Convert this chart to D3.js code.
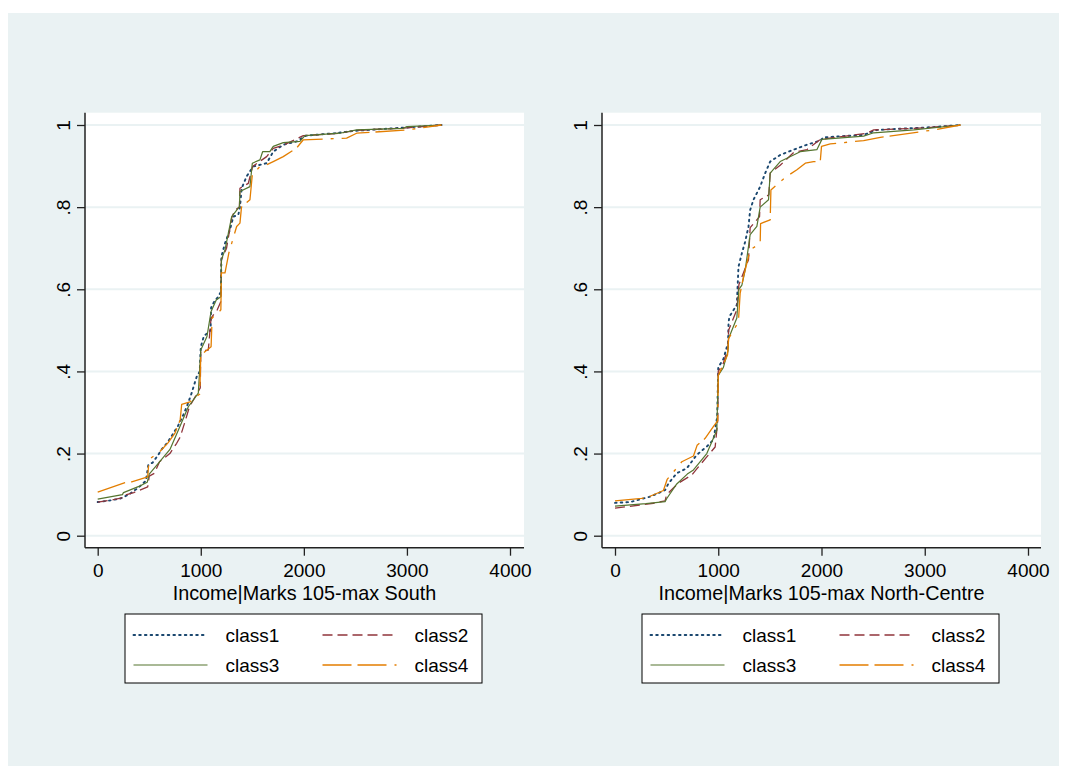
<!DOCTYPE html>
<html>
<head>
<meta charset="utf-8">
<script src="https://cdn.jsdelivr.net/npm/d3@7"></script>
<style>
  html, body { margin: 0; padding: 0; background: #ffffff; }
  svg { display: block; font-family: "Liberation Sans", Arial, sans-serif; }
</style>
</head>
<body>
<svg id="chart" width="1067" height="779"></svg>
<script>
// ---------------- data ----------------
const xTicks = [0, 1000, 2000, 3000, 4000];
const yTicks = [0, 0.2, 0.4, 0.6, 0.8, 1];
const yTickLabels = ["0", ".2", ".4", ".6", ".8", "1"];
const seriesNames = ["class1", "class2", "class3", "class4"];
const panelTitles = ["Income|Marks 105-max South", "Income|Marks 105-max North-Centre"];

// South panel: [income, cumulative share]
const southClass1 = [[0,0.082],[100,0.085],[216,0.090],[300,0.100],[400,0.118],[468,0.134],[491,0.172],[533,0.178],[588,0.197],[620,0.210],[680,0.228],[733,0.249],[780,0.268],[830,0.294],[870,0.318],[911,0.347],[960,0.387],[990,0.40],[1000,0.46],[1030,0.486],[1095,0.50],[1100,0.555],[1130,0.57],[1170,0.582],[1195,0.594],[1200,0.68],[1235,0.712],[1283,0.745],[1316,0.777],[1364,0.781],[1380,0.80],[1397,0.846],[1445,0.875],[1477,0.887],[1510,0.899],[1639,0.907],[1703,0.935],[1800,0.952],[1930,0.960],[2020,0.974],[2300,0.98],[2500,0.986],[3000,0.994],[3336,1]];
const southClass2 = [[0,0.082],[120,0.086],[233,0.092],[240,0.097],[350,0.105],[485,0.119],[500,0.145],[550,0.152],[600,0.18],[700,0.2],[766,0.225],[800,0.24],[850,0.28],[890,0.314],[950,0.34],[995,0.36],[1000,0.45],[1073,0.452],[1100,0.53],[1160,0.55],[1195,0.57],[1200,0.672],[1250,0.70],[1300,0.774],[1332,0.793],[1375,0.80],[1380,0.846],[1461,0.858],[1503,0.899],[1639,0.923],[1703,0.943],[1800,0.951],[1995,0.974],[2350,0.98],[2500,0.987],[3000,0.993],[3336,1]];
const southClass3 = [[0,0.089],[240,0.10],[250,0.105],[400,0.12],[480,0.13],[500,0.15],[600,0.18],[701,0.21],[782,0.257],[879,0.314],[976,0.347],[1000,0.452],[1060,0.485],[1100,0.546],[1150,0.574],[1195,0.582],[1200,0.672],[1235,0.696],[1300,0.777],[1375,0.801],[1380,0.838],[1477,0.85],[1500,0.907],[1574,0.915],[1600,0.935],[1670,0.935],[1703,0.948],[1800,0.957],[1962,0.96],[2011,0.974],[2350,0.98],[2512,0.988],[2964,0.992],[3000,0.996],[3336,1]];
const southClass4 = [[0,0.106],[265,0.129],[330,0.131],[485,0.143],[495,0.176],[507,0.187],[604,0.205],[682,0.226],[750,0.25],[800,0.282],[815,0.32],[895,0.326],[990,0.345],[1000,0.44],[1100,0.46],[1110,0.53],[1180,0.546],[1195,0.55],[1200,0.64],[1235,0.64],[1273,0.689],[1348,0.753],[1380,0.761],[1395,0.80],[1477,0.818],[1500,0.879],[1574,0.899],[1639,0.903],[1703,0.911],[1800,0.923],[1930,0.944],[1995,0.964],[2415,0.968],[2512,0.98],[3000,0.988],[3336,1]];

// North-Centre panel
const northClass1 = [[0,0.080],[150,0.082],[340,0.095],[485,0.111],[517,0.127],[598,0.152],[695,0.164],[792,0.197],[889,0.217],[954,0.234],[990,0.29],[1000,0.41],[1050,0.43],[1095,0.47],[1100,0.52],[1109,0.534],[1180,0.562],[1196,0.655],[1229,0.688],[1261,0.716],[1293,0.753],[1309,0.793],[1341,0.818],[1406,0.85],[1455,0.883],[1503,0.911],[1600,0.927],[1730,0.94],[1859,0.952],[1988,0.962],[2020,0.97],[2408,0.976],[2538,0.988],[3088,0.995],[3346,1]];
const northClass2 = [[0,0.067],[372,0.079],[485,0.085],[500,0.10],[614,0.128],[744,0.148],[800,0.165],[889,0.192],[970,0.216],[995,0.28],[1000,0.40],[1050,0.42],[1095,0.46],[1100,0.50],[1180,0.55],[1200,0.611],[1293,0.672],[1309,0.75],[1400,0.777],[1406,0.818],[1490,0.83],[1503,0.883],[1600,0.902],[1730,0.933],[1859,0.94],[1988,0.965],[2441,0.98],[2506,0.988],[3000,0.993],[3346,1]];
const northClass3 = [[0,0.072],[300,0.078],[485,0.083],[500,0.09],[598,0.126],[700,0.15],[760,0.16],[889,0.2],[986,0.257],[1000,0.39],[1050,0.41],[1095,0.45],[1100,0.48],[1180,0.53],[1200,0.60],[1229,0.61],[1261,0.647],[1309,0.733],[1374,0.753],[1406,0.80],[1487,0.818],[1503,0.883],[1600,0.911],[1794,0.935],[1955,0.94],[2004,0.965],[2408,0.973],[2506,0.981],[2894,0.988],[3346,1]];
const northClass4 = [[0,0.085],[259,0.091],[340,0.096],[469,0.11],[505,0.137],[582,0.16],[647,0.18],[760,0.194],[795,0.22],[873,0.237],[954,0.266],[995,0.28],[1000,0.39],[1090,0.44],[1100,0.48],[1195,0.52],[1212,0.59],[1245,0.631],[1309,0.696],[1406,0.712],[1410,0.76],[1503,0.769],[1510,0.842],[1600,0.862],[1665,0.875],[1762,0.891],[1843,0.907],[1923,0.911],[1988,0.911],[2000,0.948],[2085,0.954],[2408,0.962],[2570,0.97],[3088,0.988],[3346,1]];

// ---------------- styles ----------------
const colors = ["#1a476f", "#90353b", "#55752f", "#e37e00"];
const dashes = ["1.6,4.1", "10,5", null, "29,6,29,8,3,8"];
const caps = ["round", "butt", "butt", "butt"];
const widths = [1.9, 1.3, 1.2, 1.3];

const svg = d3.select("#chart");
svg.append("rect").attr("x", 8).attr("y", 13).attr("width", 1051).attr("height", 753).attr("fill", "#eaf2f3");

const panels = [
  { left: 85, right: 524, x0: 97.7, x4000: 510, series: [southClass1, southClass2, southClass3, southClass4], title: panelTitles[0] },
  { left: 602, right: 1041, x0: 615, x4000: 1028, series: [northClass1, northClass2, northClass3, northClass4], title: panelTitles[1] }
];
const plotTop = 112.7, plotBottom = 547.7;
const FONT = 19;
const TITLE_FONT = 19.8;

panels.forEach(p => {
  const x = d3.scaleLinear().domain([0, 4000]).range([p.x0, p.x4000]);
  const y = d3.scaleLinear().domain([0, 1]).range([535.7, 125]);
  const g = svg.append("g");

  g.append("rect").attr("x", p.left).attr("y", plotTop).attr("width", p.right - p.left).attr("height", plotBottom - plotTop).attr("fill", "#ffffff");

  // gridlines
  g.append("g").selectAll("line").data(yTicks).join("line")
    .attr("x1", p.left).attr("x2", p.right)
    .attr("y1", d => y(d)).attr("y2", d => y(d))
    .attr("stroke", "#eaf2f3").attr("stroke-width", 2);

  // lines
  const lineGen = d3.line().x(d => x(d[0])).y(d => y(d[1]));
  p.series.forEach((s, i) => {
    g.append("path").datum(s).attr("d", lineGen)
      .attr("fill", "none").attr("stroke", colors[i]).attr("stroke-width", widths[i])
      .attr("stroke-dasharray", dashes[i]).attr("stroke-linecap", caps[i])
      .attr("stroke-linejoin", "round");
  });

  // y axis
  const yAxis = d3.axisLeft(y).tickValues(yTicks).tickSize(8).tickPadding(8)
    .tickFormat((d, i) => yTickLabels[i]);
  const ya = g.append("g").attr("transform", `translate(${p.left},0)`).call(yAxis);
  ya.select(".domain").attr("d", `M0,${plotTop}V${plotBottom}`).attr("stroke", "#222").attr("stroke-width", 1.5);
  ya.selectAll(".tick line").attr("stroke", "#222").attr("stroke-width", 1.3);
  ya.selectAll(".tick text")
    .attr("font-size", FONT).attr("font-family", "Liberation Sans, Arial, sans-serif").attr("fill", "#000")
    .attr("x", null).attr("dy", null)
    .attr("text-anchor", "middle")
    .attr("transform", "translate(-15,0) rotate(-90)")
    .attr("y", 0);

  // x axis
  const xAxis = d3.axisBottom(x).tickValues(xTicks).tickSize(8).tickPadding(8).tickFormat(d3.format("d"));
  const xa = g.append("g").attr("transform", `translate(0,${plotBottom})`).call(xAxis);
  xa.select(".domain").attr("d", `M${p.left},0H${p.right}`).attr("stroke", "#222").attr("stroke-width", 1.5);
  xa.selectAll(".tick line").attr("stroke", "#222").attr("stroke-width", 1.3);
  xa.selectAll(".tick text").attr("font-size", FONT).attr("font-family", "Liberation Sans, Arial, sans-serif").attr("fill", "#000");

  // axis title
  g.append("text").attr("x", (p.left + p.right) / 2).attr("y", 599.5)
    .attr("text-anchor", "middle").attr("font-size", TITLE_FONT).attr("fill", "#000").text(p.title);

  // legend
  const lw = 357, lh = 69;
  const lx = (p.left + p.right) / 2 - lw / 2 - 1, ly = 614;
  const lg = g.append("g").attr("transform", `translate(${lx},${ly})`);
  lg.append("rect").attr("width", lw).attr("height", lh).attr("fill", "#fff").attr("stroke", "#000").attr("stroke-width", 1);
  seriesNames.forEach((name, i) => {
    const col = i % 2, row = Math.floor(i / 2);
    const kx = col === 0 ? 8.5 : 197.5;
    const ky = row === 0 ? 21 : 51;
    lg.append("line").attr("x1", kx).attr("x2", kx + 74).attr("y1", ky).attr("y2", ky)
      .attr("stroke", colors[i]).attr("stroke-width", widths[i])
      .attr("stroke-dasharray", dashes[i]).attr("stroke-linecap", caps[i]);
    lg.append("text").attr("x", kx + 92).attr("y", ky + 7).attr("font-size", FONT).attr("fill", "#000").text(name);
  });
});
</script>
</body>
</html>
